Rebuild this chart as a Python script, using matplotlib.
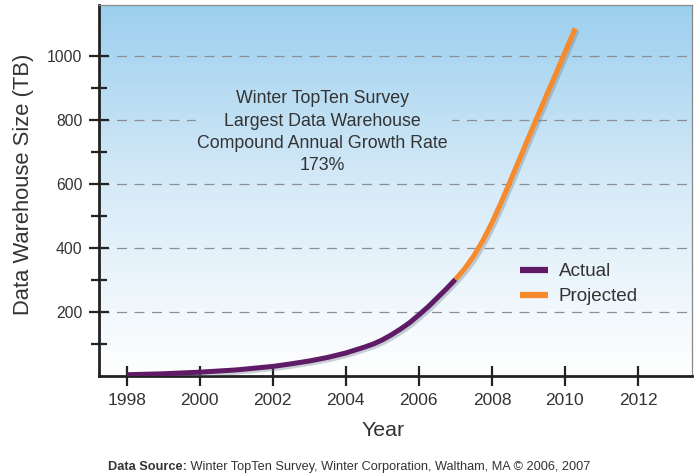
import numpy as np
import matplotlib
matplotlib.use("Agg")
import matplotlib.pyplot as plt
import matplotlib.patheffects as pe
from matplotlib.colors import LinearSegmentedColormap
from matplotlib.ticker import FixedLocator
from matplotlib.patches import Rectangle

plt.rcParams['font.family'] = ['Liberation Sans', 'DejaVu Sans']

# Data
actual_years = [1998, 1999, 2000, 2001, 2002, 2002.5, 2003, 2003.5, 2004, 2004.5,
                2004.75, 2005, 2005.25, 2005.5, 2005.75, 2006, 2006.25, 2006.5, 2006.75, 2007]
actual_tb = [4, 7, 12, 19, 30, 38, 47, 58, 72, 90,
             100, 113, 129, 147, 167, 191, 216, 244, 272, 302]
proj_years = [2007, 2007.25, 2007.5, 2007.75, 2008, 2008.25, 2008.5, 2008.75,
              2009, 2009.25, 2009.5, 2009.75, 2010, 2010.28]
proj_tb = [302, 335, 375, 423, 479, 542, 609, 677,
           745, 812, 879, 945, 1012, 1087]

x_ticks = [1998, 2000, 2002, 2004, 2006, 2008, 2010, 2012]
y_ticks = [200, 400, 600, 800, 1000]
y_minor = [100, 300, 500, 700, 900]

annotation = "Winter TopTen Survey\nLargest Data Warehouse\nCompound Annual Growth Rate\n173%"
source_bold = "Data Source:"
source_rest = " Winter TopTen Survey, Winter Corporation, Waltham, MA \u00a9 2006, 2007"

text_col = "#333333"
purple = "#5f1b66"
orange = "#f78a2a"

fig = plt.figure(figsize=(6.99, 4.75), dpi=100)
ax = fig.add_axes([99/699, 1-376/475, (692-99)/699, (376-5)/475])

ax.set_xlim(1997.24, 2013.48)
ax.set_ylim(0, 1160)

# gradient background
cmap = LinearSegmentedColormap.from_list("bg", ["#ffffff", "#d8ebf8", "#9ccfee"])
grad = np.linspace(0, 1, 256).reshape(-1, 1)
ax.imshow(grad, aspect='auto', cmap=cmap, origin='lower',
          extent=[0, 1, 0, 1], transform=ax.transAxes, zorder=0)

# grid
for yv in y_ticks:
    ax.axhline(yv, color="#8a8f96", lw=0.9, dashes=(8, 6), zorder=1)

# background patch behind the annotation (hides gridline, same gradient)
im2 = ax.imshow(grad, aspect='auto', cmap=cmap, origin='lower',
                extent=[0, 1, 0, 1], transform=ax.transAxes, zorder=1.5)
clip = Rectangle(((196-99)/593, (376-172)/371), (452-196)/593, (172-88)/371,
                 transform=ax.transAxes)
im2.set_clip_path(clip)

shadow = [pe.SimpleLineShadow(offset=(1.5, -1.5), shadow_color="#6a7a88", alpha=0.35), pe.Normal()]
ax.plot(actual_years, actual_tb, color=purple, lw=3.6, solid_capstyle='butt',
        solid_joinstyle='round', path_effects=shadow, zorder=4, label="Actual")
ax.plot(proj_years, proj_tb, color=orange, lw=3.6, solid_capstyle='butt',
        solid_joinstyle='round', path_effects=shadow, zorder=3, label="Projected")

ax.set_xticks(x_ticks)
ax.set_yticks(y_ticks)
ax.yaxis.set_minor_locator(FixedLocator(y_minor))
ax.tick_params(axis='both', which='both', direction='inout', colors="#222222",
               labelcolor=text_col, width=1.6)
ax.tick_params(axis='both', which='major', length=14, pad=5)
ax.tick_params(axis='x', labelsize=12.5)
ax.tick_params(axis='y', labelsize=11.3)
ax.tick_params(axis='y', which='minor', length=12)
ax.tick_params(axis='x', which='minor', bottom=False)

for s in ['left', 'bottom']:
    ax.spines[s].set_color("#222222")
    ax.spines[s].set_linewidth(2.0)
for s in ['top', 'right']:
    ax.spines[s].set_color("#888888")
    ax.spines[s].set_linewidth(0.9)

ax.set_xlabel("Year", fontsize=15.4, color=text_col)
ax.xaxis.set_label_coords((383-99)/593, (376-430)/371)
ax.xaxis.label.set_va('center')
ax.set_ylabel("Data Warehouse Size (TB)", fontsize=15.8, color=text_col)
ax.yaxis.set_label_coords((24-99)/593, (376-184)/371)
ax.yaxis.label.set_va('center')

ax.text(2003.35, 762, annotation, ha='center', va='center', fontsize=12.8,
        color=text_col, linespacing=1.4, zorder=5)

leg = ax.legend(loc='upper left', bbox_to_anchor=((520-99)/593, (376-263)/371),
                frameon=False, fontsize=13.6, handlelength=1.48, handletextpad=0.58,
                labelspacing=0.42, borderpad=0, borderaxespad=0, labelcolor=text_col)
for h in leg.get_lines():
    h.set_path_effects([])
    h.set_linewidth(4.5)

t = fig.text(108/699, 1-467/475, source_bold, fontsize=9.2, fontweight='bold',
             color=text_col, va='center', ha='left')
fig.canvas.draw()
bb = t.get_window_extent()
fig.text(bb.x1 / fig.bbox.width, 1-467/475, source_rest, fontsize=9.2,
         color=text_col, va='center', ha='left')

fig.savefig("out.png", dpi=100)
